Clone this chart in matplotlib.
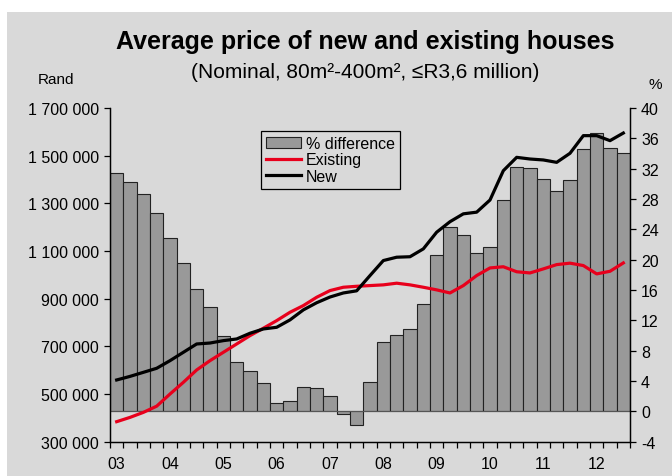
import numpy as np
import matplotlib
matplotlib.use("Agg")
import matplotlib.pyplot as plt
from matplotlib.patches import Rectangle
from matplotlib.ticker import FuncFormatter

plt.rcParams["font.family"] = ["Liberation Sans", "DejaVu Sans"]
plt.rcParams["axes.unicode_minus"] = False

# quarterly, 2003Q1 .. 2012Q3
years = ["03", "04", "05", "06", "07", "08", "09", "10", "11", "12"]

pct_diff = [31.4, 30.2, 28.6, 26.1, 22.9, 19.5, 16.2, 13.7, 9.9, 6.5,
            5.3, 3.7, 1.1, 1.4, 3.2, 3.1, 2.0, -0.3, -1.75, 3.9,
            9.1, 10.1, 10.9, 14.2, 20.6, 24.3, 23.3, 20.9, 21.7, 27.9,
            32.2, 32.1, 30.7, 29.1, 30.5, 34.6, 36.7, 34.7, 34.1]

existing = [384, 402, 423, 449, 500, 549, 601, 640, 675, 710,
            745, 776, 808, 843, 871, 906, 934, 948, 952, 955,
            958, 965, 958, 948, 937, 924, 955, 997, 1029, 1034,
            1013, 1008, 1025, 1043, 1049, 1039, 1004, 1015, 1050]

new = [559, 574, 591, 608, 640, 675, 710, 714, 724, 731,
       755, 773, 780, 811, 853, 883, 907, 924, 933, 997,
       1060, 1074, 1076, 1109, 1179, 1223, 1256, 1263, 1314, 1437,
       1493, 1486, 1482, 1472, 1510, 1584, 1584, 1563, 1595]

existing = np.array(existing) * 1000
new = np.array(new) * 1000
x = np.arange(len(pct_diff))

bg = "#d9d9d9"
fig = plt.figure(figsize=(6.72, 4.77), dpi=100, facecolor="white")
fig.patches.append(Rectangle((7 / 672, 0), 1, 1 - 13 / 477, transform=fig.transFigure,
                             facecolor=bg, edgecolor="none", zorder=-10))

ax = fig.add_axes([110 / 672, 34.3 / 477, 520 / 672, 333.7 / 477])
ax.set_facecolor("none")
ax.bar(x, pct_diff, width=1.0, color="#999999", edgecolor="#222222", linewidth=0.8,
       label="% difference")
ax.axhline(0, color="#555555", linewidth=0.8)
ax.set_ylim(-4, 40)
ax.set_yticks(np.arange(-4, 41, 4))
ax.set_xlim(-0.5, len(x) - 0.5)

ax2 = ax.twinx()
ax2.plot(x, existing, color="#e8001c", linewidth=2.3, label="Existing")
ax2.plot(x, new, color="black", linewidth=2.3, label="New")
ax2.set_ylim(300000, 1700000)
ax2.set_yticks(np.arange(300000, 1700001, 200000))
ax2.yaxis.set_major_formatter(FuncFormatter(lambda v, p: f"{int(v):,}".replace(",", " ")))

ax.yaxis.tick_right()
ax2.yaxis.tick_left()

for a in (ax, ax2):
    a.spines["top"].set_visible(False)
    for s in ("left", "right", "bottom"):
        a.spines[s].set_linewidth(0.9)
    a.tick_params(axis="y", labelsize=11.5, length=4, width=0.9, pad=4)

ax.set_xticks(x[::4])
ax.set_xticklabels(years)
ax.set_xticks(np.arange(-0.5, len(x), 1), minor=True)
ax.tick_params(axis="x", which="major", length=0, labelsize=11.5, pad=10.5)
ax.tick_params(axis="x", which="minor", length=4, width=0.9)

h1, l1 = ax.get_legend_handles_labels()
h2, l2 = ax2.get_legend_handles_labels()
leg = ax2.legend(h1 + h2, l1 + l2, loc="upper left",
                 bbox_to_anchor=(151 / 520, 1 - 23 / 333.7),
                 fontsize=11.5, frameon=True, fancybox=False, edgecolor="black",
                 facecolor=bg, framealpha=1, handlelength=2.2, handletextpad=0.3,
                 borderpad=0.3, labelspacing=0.1, borderaxespad=0)
leg.get_frame().set_linewidth(0.9)

fig.text(365 / 672, 1 - 42 / 477, "Average price of new and existing houses",
         ha="center", va="center", fontsize=18, fontweight="bold")
fig.text(365 / 672, 1 - 72 / 477, "(Nominal, 80m²-400m², ≤R3,6 million)",
         ha="center", va="center", fontsize=15)
fig.text(56 / 672, 1 - 80 / 477, "Rand", ha="center", va="center", fontsize=11)
fig.text(655 / 672, 1 - 85 / 477, "%", ha="center", va="center", fontsize=11)

fig.savefig("out.png", dpi=100, facecolor="white")
